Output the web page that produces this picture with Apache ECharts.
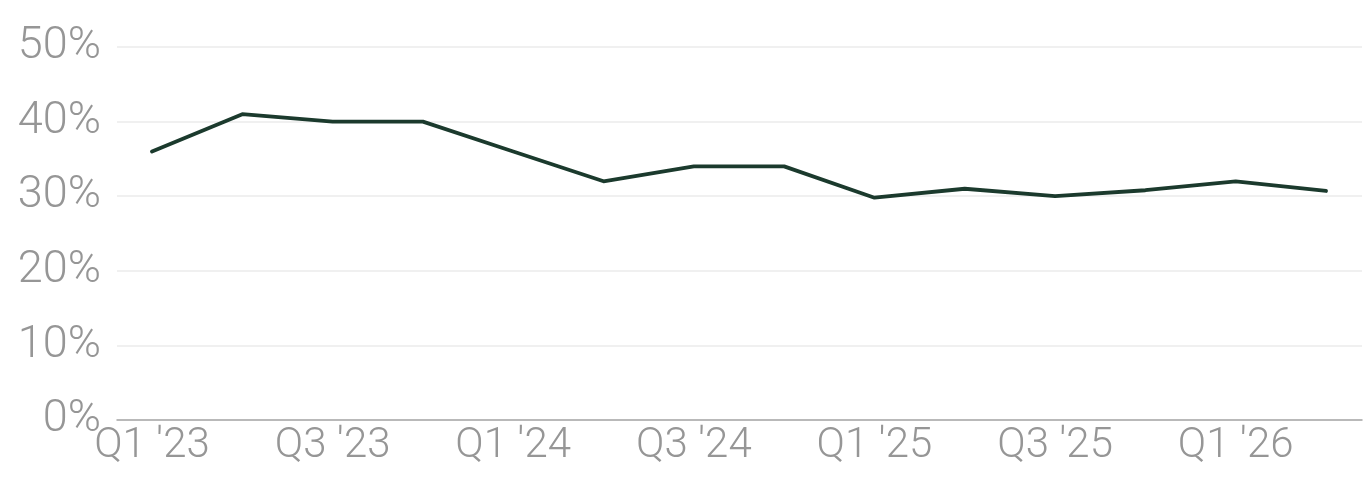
<!DOCTYPE html>
<html>
<head>
<meta charset="utf-8">
<script src="https://cdn.jsdelivr.net/npm/echarts@6/dist/echarts.min.js"></script>
<style>
  html, body { margin: 0; padding: 0; background: #fff; }
  #chart { width: 1372px; height: 482px; }
</style>
</head>
<body>
<div id="chart"></div>
<script>
// quarters and values
var quarters = ["Q1 '23", "Q2 '23", "Q3 '23", "Q4 '23", "Q1 '24", "Q2 '24", "Q3 '24",
                "Q4 '24", "Q1 '25", "Q2 '25", "Q3 '25", "Q4 '25", "Q1 '26", "Q2 '26"];
var share = [36, 41, 40, 40, 36, 32, 34, 34, 29.8, 31, 30, 30.8, 32, 30.7];
var yTicks = [0, 10, 20, 30, 40, 50];

var labelFont = 'Roboto';
var myChart = echarts.init(document.getElementById('chart'));

var option = {
    animation: false,
    grid: [
        // background grid: gridlines and axis line
        { left: 117, right: 10, top: 47, bottom: 62 },
        // data grid: first and last quarter sit inset from the axis ends
        { left: 152, right: 46, top: 47, bottom: 62 }
    ],
    xAxis: [
        {
            gridIndex: 0,
            type: 'value',
            min: 0,
            max: 1,
            axisLine: { show: true, lineStyle: { color: '#a6a6a6', width: 1.5 } },
            axisTick: { show: false },
            axisLabel: { show: false },
            splitLine: { show: false }
        },
        {
            gridIndex: 1,
            type: 'category',
            boundaryGap: false,
            data: quarters,
            axisLine: { show: false },
            axisTick: { show: false },
            splitLine: { show: false },
            axisLabel: {
                interval: 1,
                color: '#969696',
                fontFamily: labelFont,
                fontWeight: 300,
                fontSize: 42,
                margin: 5
            }
        }
    ],
    yAxis: [
        {
            gridIndex: 0,
            type: 'value',
            min: yTicks[0],
            max: yTicks[yTicks.length - 1],
            interval: 10,
            axisLine: { show: false },
            axisTick: { show: false },
            axisLabel: {
                formatter: '{value}%',
                color: '#969696',
                fontFamily: labelFont,
                fontWeight: 300,
                fontSize: 45,
                margin: 16
            },
            splitLine: { lineStyle: { color: '#ebebeb', width: 1.5 } }
        },
        {
            gridIndex: 1,
            type: 'value',
            min: yTicks[0],
            max: yTicks[yTicks.length - 1],
            show: false,
            splitLine: { show: false }
        }
    ],
    series: [
        {
            type: 'line',
            xAxisIndex: 1,
            yAxisIndex: 1,
            data: share,
            symbol: 'none',
            lineStyle: { color: '#1b3a2d', width: 3.8, cap: 'round', join: 'round' }
        }
    ]
};

myChart.setOption(option);
window.onresize = function () { myChart.resize(); };
</script>
</body>
</html>
